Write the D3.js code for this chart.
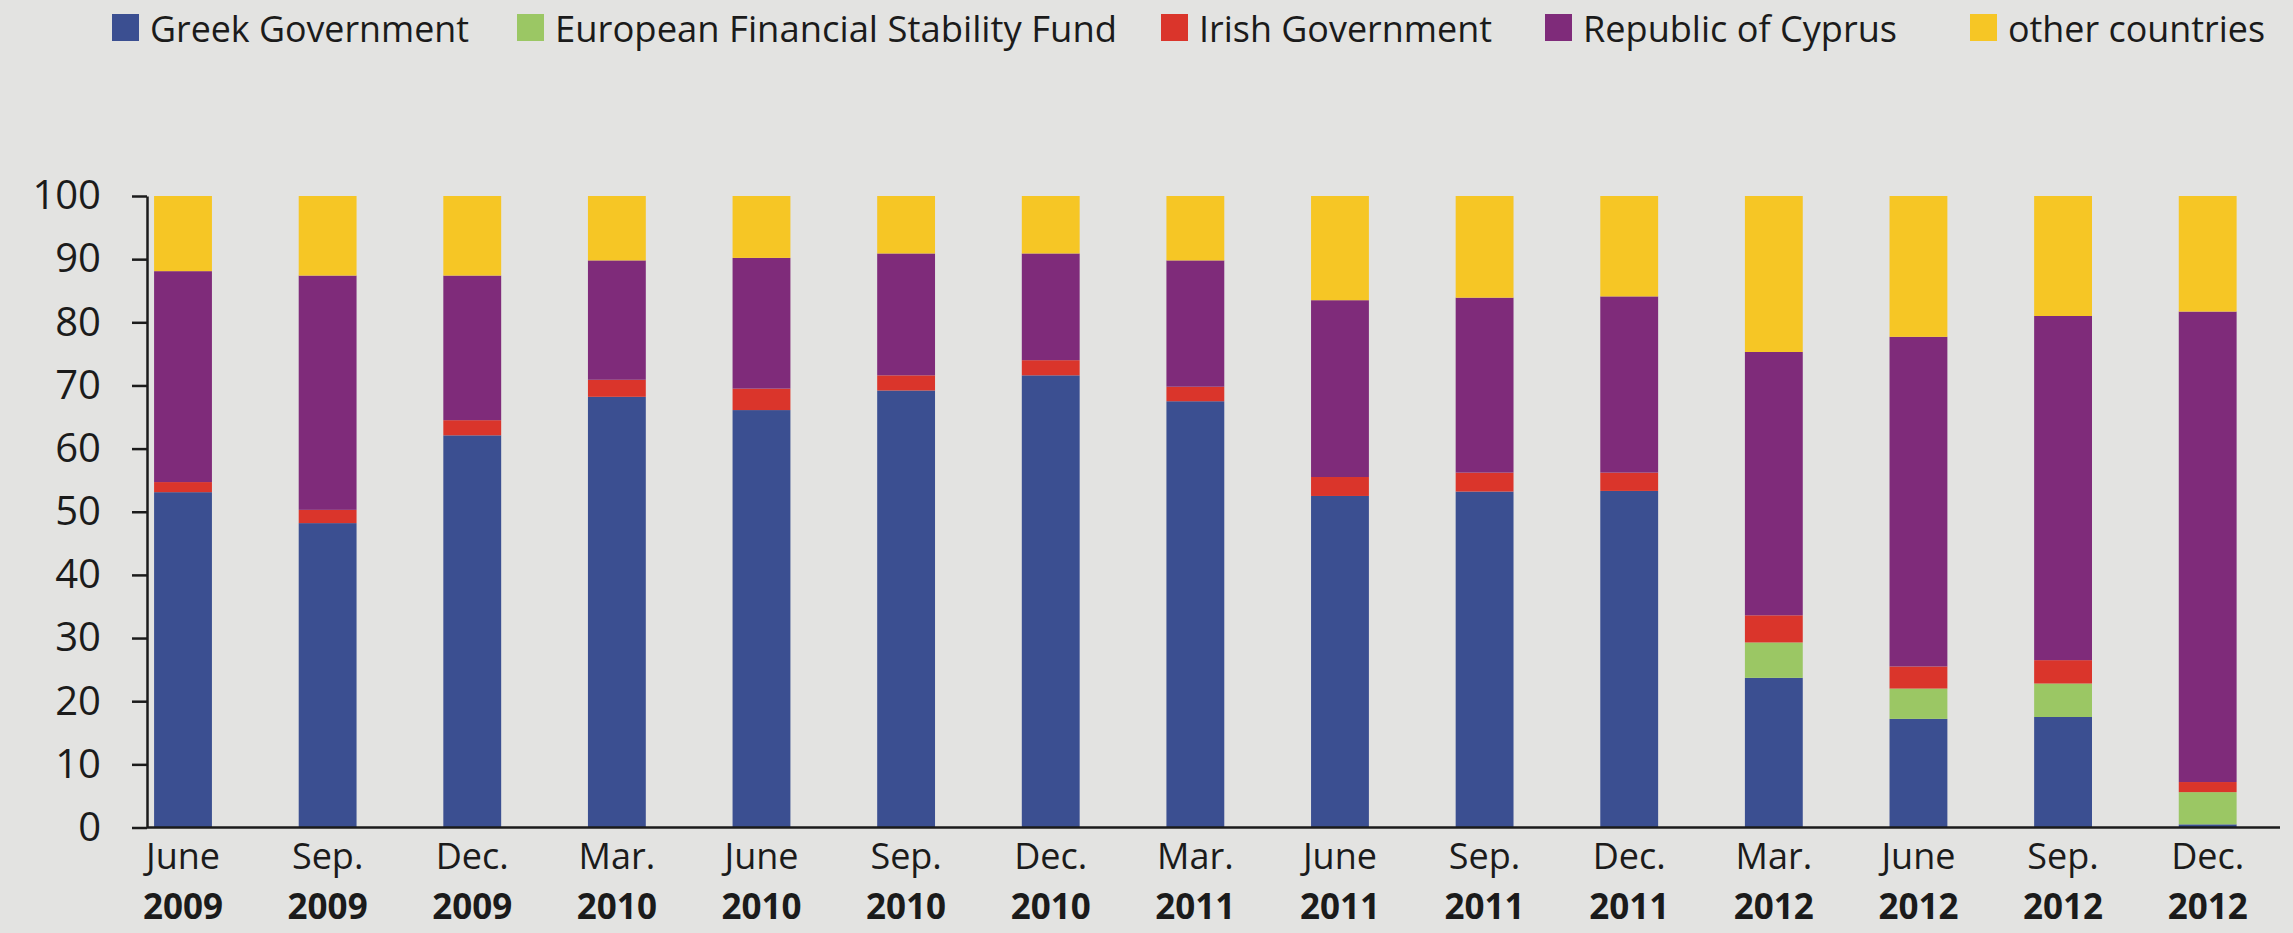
<!DOCTYPE html>
<html>
<head>
<meta charset="utf-8">
<script src="https://cdn.jsdelivr.net/npm/d3@7"></script>
<style>
  body { margin: 0; background: #e3e3e1; }
  svg { display: block; }
</style>
</head>
<body>
<script>
// quarters on the x axis
const months = ["June", "Sep.", "Dec.", "Mar.", "June", "Sep.", "Dec.", "Mar.", "June", "Sep.", "Dec.", "Mar.", "June", "Sep.", "Dec."];
const years = ["2009", "2009", "2009", "2010", "2010", "2010", "2010", "2011", "2011", "2011", "2011", "2012", "2012", "2012", "2012"];

// shares in percent
const greekGov = [53.1, 48.2, 62.1, 68.2, 66.1, 69.2, 71.6, 67.5, 52.5, 53.2, 53.3, 23.7, 17.2, 17.5, 0.5];
const efsf = [0, 0, 0, 0, 0, 0, 0, 0, 0, 0, 0, 5.6, 4.8, 5.3, 5.1];
const irishGov = [1.6, 2.1, 2.4, 2.7, 3.4, 2.4, 2.4, 2.3, 3.0, 3.0, 2.9, 4.3, 3.5, 3.7, 1.6];
const cyprus = [33.4, 37.1, 22.9, 18.9, 20.7, 19.3, 16.9, 20.0, 28.0, 27.7, 27.9, 41.7, 52.2, 54.5, 74.5];
const others = [11.9, 12.6, 12.6, 10.2, 9.8, 9.1, 9.1, 10.2, 16.5, 16.1, 15.9, 24.7, 22.3, 19.0, 18.3];

const seriesNames = ["Greek Government", "European Financial Stability Fund", "Irish Government", "Republic of Cyprus", "other countries"];
const seriesColors = ["#3b4f91", "#9bc764", "#da352b", "#7f2b7a", "#f6c625"];
const yTicks = [0, 10, 20, 30, 40, 50, 60, 70, 80, 90, 100];

const W = 2293, H = 933;
const font = "'Open Sans', 'Noto Sans', sans-serif";

// table for d3.stack
const keys = ["g", "e", "i", "c", "o"];
const rows = months.map((m, i) => ({
  idx: i, g: greekGov[i], e: efsf[i], i: irishGov[i], c: cyprus[i], o: others[i]
}));
const stacked = d3.stack().keys(keys)(rows);

const svg = d3.select("body").append("svg")
  .attr("width", W).attr("height", H)
  .style("background", "#e3e3e1");

const x = d3.scaleBand()
  .domain(d3.range(months.length))
  .range([110.7, 2280])
  .paddingInner(0.6)
  .paddingOuter(0.3);

const y = d3.scaleLinear()
  .domain([0, 100])
  .range([827.5, 196]);

const axisX0 = 147;

// bars
svg.append("g").selectAll("g")
  .data(stacked)
  .join("g")
    .attr("fill", (d, k) => seriesColors[k])
  .selectAll("rect")
  .data(d => d)
  .join("rect")
    .attr("x", d => x(d.data.idx))
    .attr("width", x.bandwidth())
    .attr("y", d => y(d[1]))
    .attr("height", d => y(d[0]) - y(d[1]));

// y axis
const yAxis = svg.append("g")
  .attr("transform", `translate(${axisX0},0)`)
  .call(d3.axisLeft(y).tickValues(yTicks).tickSize(15).tickSizeOuter(0).tickPadding(31));
yAxis.select(".domain").attr("stroke", "#1b1b1b").attr("stroke-width", 2.5);
yAxis.selectAll(".tick line").attr("stroke", "#1b1b1b").attr("stroke-width", 2.5);
yAxis.selectAll(".tick text")
  .attr("fill", "#1b1b1b")
  .attr("font-family", font)
  .attr("font-size", 40);

// x axis line
svg.append("line")
  .attr("x1", axisX0).attr("x2", 2280)
  .attr("y1", y(0)).attr("y2", y(0))
  .attr("stroke", "#1b1b1b").attr("stroke-width", 2.5);

// x labels: month + bold year
const xl = svg.append("g").selectAll("g")
  .data(months)
  .join("g")
    .attr("transform", (d, i) => `translate(${x(i) + x.bandwidth() / 2},0)`);
xl.append("text")
  .attr("y", 869)
  .attr("text-anchor", "middle")
  .attr("font-family", font)
  .attr("font-size", 36)
  .attr("fill", "#1b1b1b")
  .text(d => d);
xl.append("text")
  .attr("y", 919)
  .attr("text-anchor", "middle")
  .attr("font-family", font)
  .attr("font-weight", "bold")
  .attr("font-size", 35)
  .attr("fill", "#1b1b1b")
  .text((d, i) => years[i]);

// legend
const legendX = [112, 517, 1161, 1545, 1970];
const legendW = [319, 562, 293, 314, 257];
const lg = svg.append("g").selectAll("g")
  .data(seriesNames)
  .join("g")
    .attr("transform", (d, i) => `translate(${legendX[i]},14)`);
lg.append("rect")
  .attr("width", 27).attr("height", 27)
  .attr("fill", (d, i) => seriesColors[i]);
lg.append("text")
  .attr("x", 38)
  .attr("y", 28)
  .attr("font-family", font)
  .attr("font-size", 37)
  .attr("fill", "#1b1b1b")
  .attr("textLength", (d, i) => legendW[i])
  .attr("lengthAdjust", "spacingAndGlyphs")
  .text(d => d);
</script>
</body>
</html>
